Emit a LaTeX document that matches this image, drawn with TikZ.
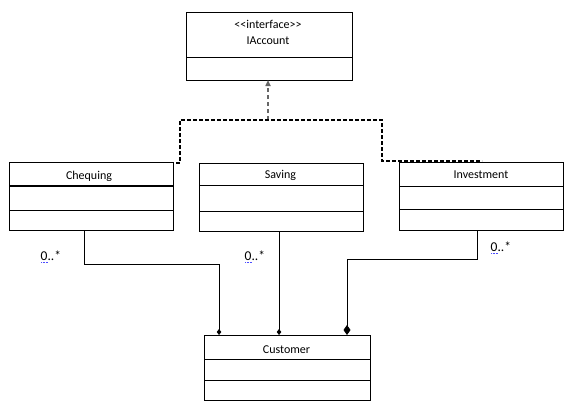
\documentclass[tikz,border=0pt]{standalone}
\usepackage{fontspec}
\setmainfont{Carlito}
\usetikzlibrary{arrows.meta,positioning}
\begin{document}
\begin{tikzpicture}[x=1pt,y=-1pt,
  cls/.style={draw,line width=0.8pt,fill=white},
  lbl/.style={font=\fontsize{12}{14}\selectfont,inner sep=0pt,anchor=base},
  mult/.style={font=\fontsize{13.5}{15}\selectfont,inner sep=0pt,anchor=base west},
  realize/.style={line width=1.5pt,dash pattern=on 4pt off 2pt},
  assoc/.style={line width=0.8pt},
  smalldia/.style={-{Diamond[length=6pt,width=4.5pt]}},
  bigdia/.style={-{Diamond[length=10pt,width=7pt]}}]
\useasboundingbox (0,0) rectangle (580,412);
% IAccount
\draw[cls] (186,12) rectangle (352,80);
\draw[line width=0.8pt] (186,57) -- (352,57);
\node[lbl] (st) at (268,29) {{<}{<}interface{>}{>}};
\node[lbl] (ia) at (268,45) {IAccount};
\coordinate (iab) at (268,80);
% Chequing
\draw[cls] (9,162) rectangle (173,230);
\draw[line width=1.2pt] (9,186) -- (173,186);
\draw[line width=0.8pt] (9,210) -- (173,210);
\node[lbl] (ch) at (89,179) {Chequing};
% Saving
\draw[cls] (199,163) rectangle (363,231);
\draw[line width=0.8pt] (199,185) -- (363,185);
\draw[line width=0.8pt] (199,211) -- (363,211);
\node[lbl] (sa) at (280.5,178.5) {Saving};
% Investment
\draw[cls] (399,162) rectangle (563,230);
\draw[line width=0.8pt] (399,186) -- (563,186);
\draw[line width=0.8pt] (399,209) -- (563,209);
\node[lbl] (in) at (481,178.5) {Investment};
% Customer
\draw[cls] (204,335) rectangle (370,400);
\draw[line width=0.8pt] (204,359) -- (370,359);
\draw[line width=0.8pt] (204,380) -- (370,380);
\node[lbl] (cu) at (286.5,353) {Customer};
% realization
\coordinate (r0) at (268,120);
\draw[gray!80!black,line width=1.5pt,dash pattern=on 4pt off 3pt,-{Triangle[length=6pt,width=5pt]}] (r0) -- (iab);
\draw[realize] (176,163) -- (180,163) -- (180,120) -- (382,120) -- (382,161) -- (482,161);
% associations
\draw[assoc,smalldia] (84,230) -- (84,264) -- (219,264) -- (219,335);
\draw[assoc,smalldia] (279,231) -- (279,335);
\draw[assoc,bigdia] (477,230) -- (477,259) -- (347,259) -- (347,335);
% multiplicities
\node[mult] (m1) at (40.5,260) {0..*};
\node[mult] (m2) at (244.5,260) {0..*};
\node[mult] (m3) at (490.5,251) {0..*};
\foreach \x/\y in {41/262.5,245/262.5,491/253.5}
  \draw[blue!70,line width=0.8pt,dash pattern=on 0.8pt off 0.8pt] (\x,\y) -- (\x+7,\y);
\end{tikzpicture}
\end{document}
